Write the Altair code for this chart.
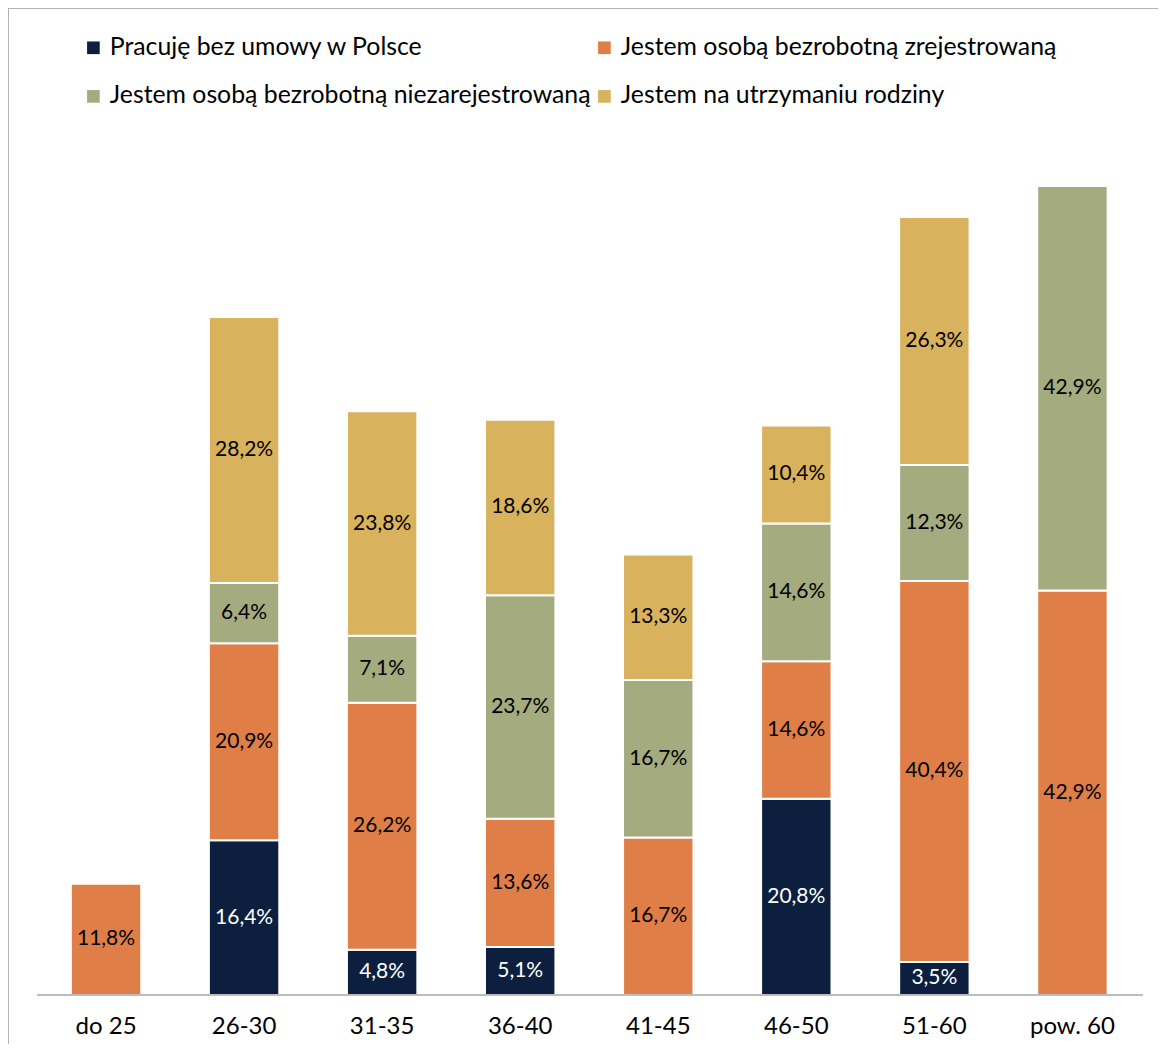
import altair as alt
import pandas as pd

categories = ["do 25", "26-30", "31-35", "36-40", "41-45", "46-50", "51-60", "pow. 60"]
series = [
    "Pracuję bez umowy w Polsce",
    "Jestem osobą bezrobotną zrejestrowaną",
    "Jestem osobą bezrobotną niezarejestrowaną",
    "Jestem na utrzymaniu rodziny",
]
pracuje = [0, 16.4, 4.8, 5.1, 0, 20.8, 3.5, 0]
zarejestrowana = [11.8, 20.9, 26.2, 13.6, 16.7, 14.6, 40.4, 42.9]
niezarejestrowana = [0, 6.4, 7.1, 23.7, 16.7, 14.6, 12.3, 42.9]
rodzina = [0, 28.2, 23.8, 18.6, 13.3, 10.4, 26.3, 0]
colors = ["#0C1F3F", "#DF7F47", "#A3AB7F", "#D8B25C"]

values = [pracuje, zarejestrowana, niezarejestrowana, rodzina]
rows = []
for i, c in enumerate(categories):
    base = 0.0
    for k, s in enumerate(series):
        v = values[k][i]
        if v > 0:
            rows.append({
                "cat": c, "series": s, "value": v,
                "y0": base, "y1": base + v, "mid": base + v / 2,
                "label": f"{v:.1f}%".replace(".", ","),
                "dark": k == 0,
            })
        base += v
df = pd.DataFrame(rows)

W, H = 1150, 1036
FONT = "Lato"

xscale = alt.Scale(domain=categories, paddingInner=0.49, paddingOuter=0.41, align=0.555)
yscale = alt.Scale(domain=[-5.2, 104.67], nice=False, zero=False)

bars = alt.Chart(df).mark_bar(stroke="white", strokeWidth=2).encode(
    x=alt.X("cat:N", scale=xscale, sort=categories,
            axis=alt.Axis(title=None, domain=False, ticks=False, offset=-49,
                          labelPadding=19, labelFontSize=24, labelFont=FONT,
                          labelColor="#000000", labelAngle=0)),
    y=alt.Y("y0:Q", scale=yscale, axis=None),
    y2="y1:Q",
    color=alt.Color("series:N", scale=alt.Scale(domain=series, range=colors),
                    legend=alt.Legend(title=None, orient="none", legendX=73, legendY=27,
                                      columns=2, direction="horizontal",
                                      symbolType="square", symbolSize=160,
                                      symbolStrokeWidth=0, labelFontSize=24.8, labelFont=FONT,
                                      labelColor="#000000", rowPadding=23, columnPadding=1,
                                      labelOffset=4, labelLimit=800)),
)

texts = alt.Chart(df).mark_text(fontSize=21, font=FONT).encode(
    x=alt.X("cat:N", scale=xscale, sort=categories),
    y=alt.Y("mid:Q", scale=yscale),
    text="label:N",
    color=alt.condition(alt.datum.dark, alt.value("white"), alt.value("#000000")),
)

baseline = alt.Chart(pd.DataFrame({"y": [0]})).mark_rule(color="#A6A6A6", strokeWidth=1.5).encode(
    y=alt.Y("y:Q", scale=yscale), x=alt.value(29), x2=alt.value(1135)
)

frame_top = alt.Chart(pd.DataFrame({"a": [0]})).mark_rule(color="#A6A6A6", strokeWidth=1.5).encode(
    x=alt.value(0), x2=alt.value(W), y=alt.value(0)
)
frame_left = alt.Chart(pd.DataFrame({"a": [0]})).mark_rule(color="#A6A6A6", strokeWidth=1.5).encode(
    x=alt.value(0), y=alt.value(0), y2=alt.value(H)
)

chart = alt.layer(bars, texts, baseline, frame_top, frame_left).properties(
    width=W, height=H, padding=0, autosize=alt.AutoSizeParams(type="none")
).configure_view(stroke=None).configure(background="white")

chart.save("out.html", embed_options={"renderer": "svg", "actions": False})
